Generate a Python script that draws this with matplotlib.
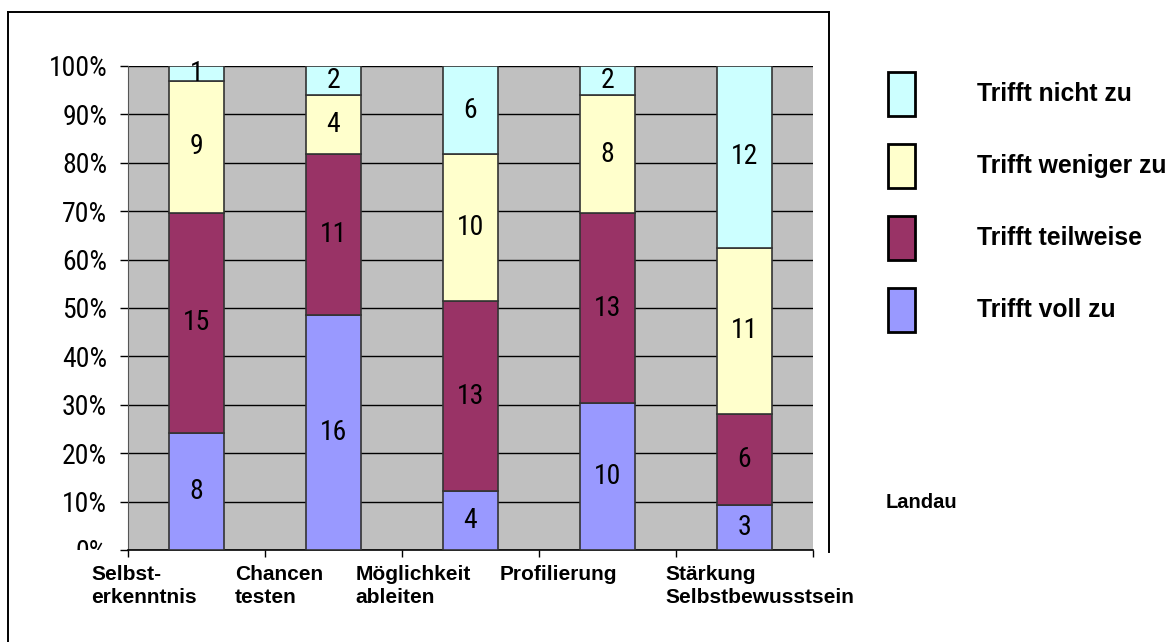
import matplotlib
matplotlib.use("Agg")
import matplotlib.pyplot as plt
import numpy as np
from matplotlib.patches import Rectangle
from matplotlib.lines import Line2D
from matplotlib.transforms import Bbox
from matplotlib import font_manager

# ---- data ----
categories = ["Selbst-\nerkenntnis", "Chancen\ntesten", "Möglichkeit\nableiten",
              "Profilierung", "Stärkung\nSelbstbewusstsein"]
series_names = ["Trifft voll zu", "Trifft teilweise", "Trifft weniger zu", "Trifft nicht zu"]
voll_zu = [8, 16, 4, 10, 3]
teilweise = [15, 11, 13, 13, 6]
weniger_zu = [9, 4, 10, 8, 11]
nicht_zu = [1, 2, 6, 2, 12]
y_ticks = [0, 10, 20, 30, 40, 50, 60, 70, 80, 90, 100]
side_note = "Landau"

colors = ["#9999FF", "#993366", "#FFFFCC", "#CCFFFF"]

# look for a condensed / narrow sans face
cands = []
for f in font_manager.fontManager.ttflist:
    n = f.name
    st = str(f.stretch)
    if ("Narrow" in n or "Condensed" in n or st in ("condensed", "semi-condensed", "extra-condensed")) \
            and f.weight in ("normal", 400, "regular", "book") and f.style == "normal":
        cands.append(f)
narrow_prop = None
for pref in ["Liberation Sans Narrow", "Arial Narrow", "Roboto Condensed", "DejaVu Sans Condensed",
             "Open Sans Condensed", "Noto Sans Condensed"]:
    for f in cands:
        if f.name == pref or (pref.split()[0] in f.name and ("Narrow" in pref or "Condensed" in pref)):
            narrow_prop = font_manager.FontProperties(fname=f.fname)
            break
    if narrow_prop is not None:
        break
if narrow_prop is None and cands:
    narrow_prop = font_manager.FontProperties(fname=cands[0].fname)
if narrow_prop is None:
    narrow_prop = font_manager.FontProperties(family="Liberation Sans")
    num_size = 17
else:
    num_size = 20

plt.rcParams["font.family"] = ["Liberation Sans", "DejaVu Sans"]

W, H = 1170, 642
fig = plt.figure(figsize=(W / 100, H / 100), dpi=100)

def fx(x): return x / W
def fy(y): return 1 - y / H

L, R, T, B = 128, 813, 66, 550
ax = fig.add_axes([fx(L), fy(B), fx(R - L), (B - T) / H])
ax.set_facecolor("#C0C0C0")

series = [voll_zu, teilweise, weniger_zu, nicht_zu]
data = np.array(series, dtype=float)
totals = data.sum(axis=0)
pct = data / totals * 100
x = np.arange(len(categories))
bottom = np.zeros(len(categories))
for i, (name, col) in enumerate(zip(series_names, colors)):
    bars = ax.bar(x, pct[i], 0.4, bottom=bottom, color=col, edgecolor="#333333",
                  linewidth=1.2, zorder=3, label=name)
    for j, b in enumerate(bars):
        t = ax.text(x[j], bottom[j] + pct[i][j] / 2, str(series[i][j]), ha="center", va="center",
                    fontproperties=narrow_prop, zorder=4)
        t.set_fontsize(num_size)
    bottom += pct[i]

ax.set_xlim(-0.5, len(categories) - 0.5)
ax.set_ylim(0, 100)
ax.set_yticks(y_ticks)
ax.set_yticklabels([f"{t}%" for t in y_ticks])
for lab in ax.get_yticklabels():
    lab.set_fontproperties(narrow_prop)
    lab.set_fontsize(num_size)
ax.yaxis.grid(True, color="black", linewidth=1.0, zorder=1)
ax.set_axisbelow(True)
ax.tick_params(axis="y", direction="out", length=6, width=1, pad=9)
ax.set_xticks(np.arange(len(categories) + 1) - 0.5)
ax.set_xticklabels([])
ax.tick_params(axis="x", direction="out", length=5, width=1)
for s in ["top", "right"]:
    ax.spines[s].set_visible(False)
ax.spines["left"].set_color("#555555")
ax.spines["bottom"].set_linewidth(1.2)

# category labels
label_shift = [-0.77, -0.72, -0.84, -0.79, -0.58]
for i, c in enumerate(categories):
    ax.text(i + label_shift[i], -3.0, c, ha="left", va="top", fontsize=15,
            fontweight="bold", linespacing=1.3, transform=ax.transData, clip_on=False)

# clip 0% label at the axis line
fig.canvas.draw()
for lab in ax.get_yticklabels():
    if lab.get_text() == "0%":
        lab.set_clip_on(True)
        lab.set_clip_box(Bbox.from_extents(0, H - B, W, H))

# legend (drawn manually, top entry first)
leg_rows = [94, 166, 238, 310]
for yc, name, col in zip(leg_rows, series_names[::-1], colors[::-1]):
    fig.add_artist(Rectangle((fx(888), fy(yc + 22)), fx(27), 44 / H, transform=fig.transFigure,
                             facecolor=col, edgecolor="black", linewidth=2.0))
    fig.text(fx(977), fy(yc), name, ha="left", va="center", fontsize=17.8, fontweight="bold")

fig.text(fx(886), fy(502), side_note, ha="left", va="center", fontsize=14.5, fontweight="bold")

# outer frame
lw = 1.4
fig.add_artist(Line2D([fx(8), fx(829)], [fy(12), fy(12)], color="black", lw=lw))
fig.add_artist(Line2D([fx(8), fx(8)], [fy(12), fy(642)], color="black", lw=lw))
fig.add_artist(Line2D([fx(829), fx(829)], [fy(12), fy(552)], color="black", lw=lw))

fig.savefig("out.png", dpi=100)
